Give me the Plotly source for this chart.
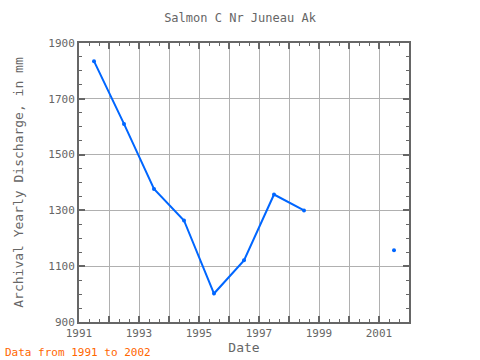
import plotly.graph_objects as go

years = [1991.5, 1992.5, 1993.5, 1994.5, 1995.5, 1996.5, 1997.5, 1998.5, 1999.5, 2000.5, 2001.5]
discharge = [1835, 1610, 1377, 1264, 1002, 1121, 1357, 1300, None, None, 1157]

x_tick_vals = [1991, 1992, 1993, 1994, 1995, 1996, 1997, 1998, 1999, 2000, 2001]
x_tick_text = ["1991", "", "1993", "", "1995", "", "1997", "", "1999", "", "2001"]

font_family = "DejaVu Sans Mono, Liberation Mono, monospace"
grey = "#666666"

fig = go.Figure()
fig.add_trace(go.Scatter(
    x=years, y=discharge, mode="lines+markers",
    line=dict(color="#0066ff", width=2),
    marker=dict(color="#0066ff", size=4),
    connectgaps=False, showlegend=False,
))

fig.update_layout(
    width=480, height=360,
    margin=dict(l=79, r=71, t=43, b=38, autoexpand=False),
    paper_bgcolor="white", plot_bgcolor="white",
    font=dict(family=font_family, color=grey, size=11),
    title=dict(text="Salmon C Nr Juneau Ak", x=0.5, xanchor="center",
               y=1 - 18/360, yanchor="middle", font=dict(size=12, color=grey)),
)
fig.update_xaxes(
    range=[1991, 2002], tickmode="array", tickvals=x_tick_vals, ticktext=x_tick_text,
    showgrid=True, gridcolor="#b0b0b0", gridwidth=1,
    ticks="inside", ticklen=6, tickwidth=2, tickcolor=grey,
    minor=dict(dtick=1/3, tick0=1991, ticks="inside", ticklen=3, tickwidth=1, tickcolor=grey, showgrid=False),
    showline=True, linecolor=grey, linewidth=2, mirror="ticks",
    zeroline=False, automargin=False,
    title=dict(text="Date", font=dict(size=13, color=grey), standoff=4),
    tickfont=dict(size=11, color=grey),
)
fig.update_yaxes(
    range=[900, 1900], tick0=900, dtick=200,
    showgrid=True, gridcolor="#b0b0b0", gridwidth=1,
    ticks="inside", ticklen=6, tickwidth=2, tickcolor=grey,
    minor=dict(dtick=50, tick0=900, ticks="inside", ticklen=3, tickwidth=1, tickcolor=grey, showgrid=False),
    showline=True, linecolor=grey, linewidth=2, mirror="ticks",
    zeroline=False, automargin=False,
    title=dict(text="Archival Yearly Discharge, in mm", font=dict(size=13, color=grey), standoff=22),
    tickfont=dict(size=11, color=grey),
)
fig.add_annotation(
    text="Data from 1991 to 2002", xref="paper", yref="paper",
    x=-76/330, y=-30/279, xanchor="left", yanchor="middle", showarrow=False,
    font=dict(size=11, color="#ff6600", family=font_family),
)
fig.write_html("out.html", config={"displayModeBar": False},
               post_script="document.body.style.margin='0';document.body.style.padding='0';")
